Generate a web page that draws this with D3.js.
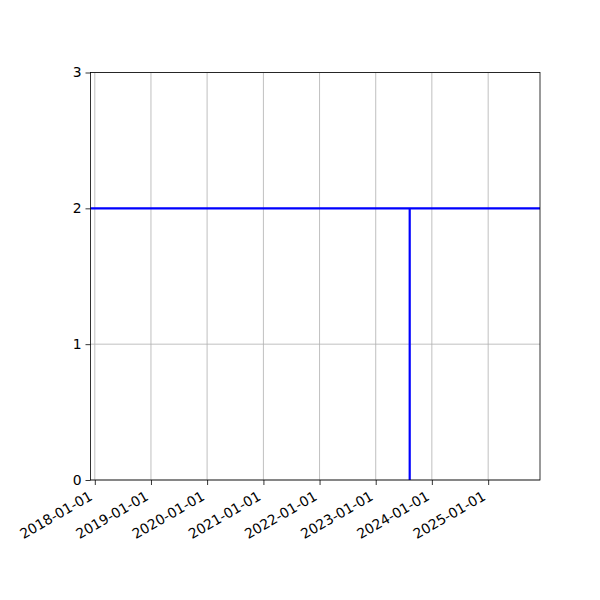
<!DOCTYPE html>
<html>
<head>
<meta charset="utf-8">
<script src="https://cdn.jsdelivr.net/npm/d3@7"></script>
<style>
	body { margin: 0; background: #fff; }
	svg text { font-family: "DejaVu Sans", sans-serif; }
</style>
</head>
<body>
<svg id="chart" width="600" height="600"></svg>
<script>
// level line and the drop date
const levelValue = 2
const dropDate = '2023-08-10'
const dropFrom = 2
const dropTo = 0

const xLimits = ['2017-12-04', '2025-12-04']
const yTicks = [0, 1, 2, 3]
const xTickLabels = ['2018-01-01', '2019-01-01', '2020-01-01', '2021-01-01',
	'2022-01-01', '2023-01-01', '2024-01-01', '2025-01-01']

const parse = d3.utcParse('%Y-%m-%d')

const M = { left: 90.5, right: 540, top: 72.5, bottom: 480 }

const svg = d3.select('#chart')

const x = d3.scaleUtc()
	.domain(xLimits.map(parse))
	.range([M.left, M.right])

const y = d3.scaleLinear()
	.domain([0, 3])
	.range([M.bottom, M.top])

// grid
const grid = svg.append('g')
	.attr('stroke', '#b0b0b0')
	.attr('stroke-width', 0.8)
grid.selectAll('line.v')
	.data(xTickLabels.map(parse))
	.join('line')
	.attr('class', 'v')
	.attr('x1', d => x(d)).attr('x2', d => x(d))
	.attr('y1', M.top).attr('y2', M.bottom)
grid.selectAll('line.h')
	.data(yTicks)
	.join('line')
	.attr('class', 'h')
	.attr('x1', M.left).attr('x2', M.right)
	.attr('y1', d => y(d)).attr('y2', d => y(d))

// data lines
const line = d3.line().x(d => x(d[0])).y(d => y(d[1]))
const lines = svg.append('g')
	.attr('fill', 'none')
	.attr('stroke', '#0000ff')
	.attr('stroke-width', 2.2)

lines.append('path')
	.attr('d', line([[x.domain()[0], levelValue], [x.domain()[1], levelValue]]))
lines.append('path')
	.attr('d', line([[parse(dropDate), dropFrom], [parse(dropDate), dropTo]]))

// axes
const xAxis = svg.append('g')
	.attr('transform', `translate(0,${M.bottom})`)
	.call(d3.axisBottom(x)
		.tickValues(xTickLabels.map(parse))
		.tickFormat(d3.utcFormat('%Y-%m-%d'))
		.tickSizeOuter(0)
		.tickSize(5))
xAxis.selectAll('text')
	.attr('font-size', 13.9)
	.attr('fill', '#000')
	.attr('text-anchor', 'end')
	.attr('x', -2)
	.attr('y', 19)
	.attr('dy', 0)
	.attr('transform', 'rotate(-30,-2,19)')

const yAxis = svg.append('g')
	.attr('transform', `translate(${M.left},0)`)
	.call(d3.axisLeft(y)
		.tickValues(yTicks)
		.tickFormat(d3.format('d'))
		.tickSizeOuter(0)
		.tickSize(5)
		.tickPadding(4))
yAxis.selectAll('text')
	.attr('font-size', 13.9)
	.attr('fill', '#000')

svg.selectAll('.domain').remove()
svg.selectAll('.tick line').attr('stroke', '#000').attr('stroke-width', 0.8)

// frame
svg.append('rect')
	.attr('x', M.left).attr('y', M.top)
	.attr('width', M.right - M.left).attr('height', M.bottom - M.top)
	.attr('fill', 'none')
	.attr('stroke', '#000')
	.attr('stroke-width', 0.8)
</script>
</body>
</html>
